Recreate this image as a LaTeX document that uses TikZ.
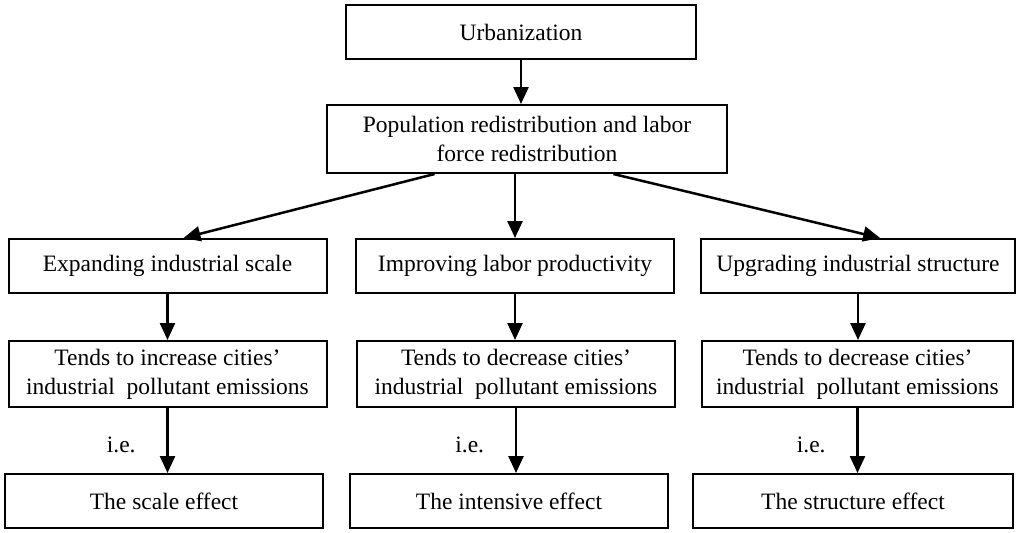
\documentclass[tikz,border=0pt]{standalone}
\usepackage{fontspec}
\setmainfont{Liberation Serif}
\usetikzlibrary{arrows.meta,calc}
\begin{document}
\begin{tikzpicture}[x=0.5pt,y=-0.5pt,
    box/.style={draw,line width=1pt,inner sep=0pt,align=center,minimum width=159pt,minimum height=27pt,font=\fontsize{11.75}{14.5}\selectfont},
    tall/.style={minimum height=33pt},
    lbl/.style={font=\fontsize{11.75}{14.5}\selectfont},
    arr/.style={line width=1.25pt,-{Triangle[length=8.5pt,width=7.5pt]}}]
    \useasboundingbox (0,0) rectangle (1024,532);
    % top
    \node[box,minimum width=175pt] (urb) at (521,32) {Urbanization};
    \node[box,minimum width=200pt,minimum height=34pt] (pop) at (527,139) {Population redistribution and labor\\force redistribution};
    % mechanisms
    \node[box] (m1) at (167.5,266) {Expanding industrial scale};
    \node[box] (m2) at (515,266) {Improving labor productivity};
    \node[box,minimum width=157pt] (m3) at (858,266) {Upgrading industrial structure};
    % tendencies
    \node[box,tall] (t1) at (167.5,374) {Tends to increase cities’\\industrial~ pollutant emissions};
    \node[box,tall] (t2) at (516,374) {Tends to decrease cities’\\industrial~ pollutant emissions};
    \node[box,tall,minimum width=155.5pt] (t3) at (857.5,374) {Tends to decrease cities’\\industrial~ pollutant emissions};
    % effects
    \node[box] (e1) at (164,501) {The scale effect};
    \node[box] (e2) at (509,501) {The intensive effect};
    \node[box,minimum width=160pt] (e3) at (853,501) {The structure effect};
    % connectors
    \coordinate (p1) at ($(pop.south west)!.27!(pop.south east)$);
    \coordinate (p3) at ($(pop.south west)!.715!(pop.south east)$);
    \coordinate (q1) at ($(m1.north west)!.55!(m1.north east)$);
    \coordinate (q3) at ($(m3.north west)!.57!(m3.north east)$);
    \draw[arr] (urb.south) -- (urb.south |- pop.north);
    \draw[arr] (p1) -- (q1); \draw[arr] (m2.north |- pop.south) -- (m2.north); \draw[arr] (p3) -- (q3);
    \draw[arr] (m1.south) -- (m1.south |- t1.north);
    \draw[arr] (m2.south) -- (m2.south |- t2.north);
    \draw[arr] (m3.south) -- (m3.south |- t3.north);
    \draw[arr] (t1.south) -- node[lbl,midway,left=12pt,yshift=-2pt] {i.e.} (t1.south |- e1.north);
    \draw[arr] (t2.south) -- node[lbl,midway,left=12pt,yshift=-2pt] {i.e.} (t2.south |- e2.north);
    \draw[arr] (t3.south) -- node[lbl,midway,left=12pt,yshift=-2pt] {i.e.} (t3.south |- e3.north);
\end{tikzpicture}
\end{document}
